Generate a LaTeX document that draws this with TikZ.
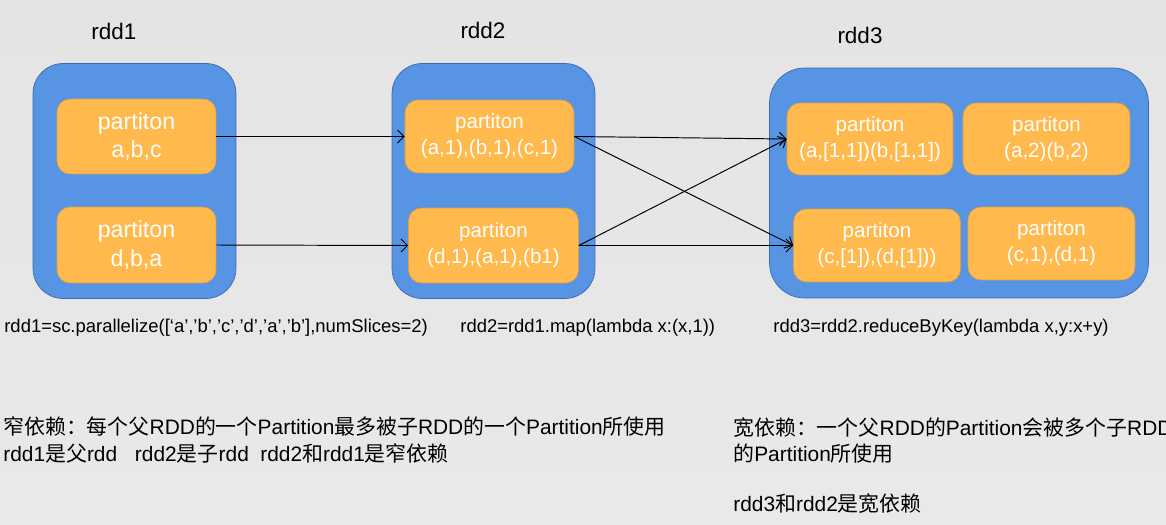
\documentclass[tikz,border=0pt]{standalone}
\usepackage{fontspec}
\setmainfont{Liberation Sans}
\newfontfamily\cjk{Noto Sans CJK SC}
\usetikzlibrary{arrows.meta}
\definecolor{rddblue}{RGB}{87,148,228}
\definecolor{rddedge}{RGB}{60,105,175}
\definecolor{partorange}{RGB}{255,185,77}
\definecolor{partedge}{RGB}{222,160,70}
\definecolor{bgtop}{RGB}{228,228,228}
\definecolor{bgmid}{RGB}{243,243,243}
\definecolor{bgbot}{RGB}{233,233,233}
\newcommand{\zh}[1]{{\cjk #1}}

\begin{document}
\begin{tikzpicture}[x=0.02cm,y=-0.02cm,
		rddbox/.style={draw=rddedge,fill=rddblue,rounded corners=0.6cm,inner sep=0pt},
		part/.style={draw=partedge,fill=partorange,rounded corners=0.26cm,inner sep=0pt,
			text=white,align=center,font=\fontsize{11.7}{14.7}\selectfont},
		rddname/.style={font=\fontsize{12.8}{15}\selectfont},
		codeline/.style={anchor=west,inner sep=0pt,font=\fontsize{10.5}{13}\selectfont},
		noteline/.style={anchor=west,inner sep=0pt,font=\fontsize{11.9}{14}\selectfont},
		dep/.style={line width=0.55pt,-{Straight Barb[length=1.3mm,width=2.6mm]}}]
			\fill[top color=bgtop,middle color=bgmid,bottom color=bgbot] (0,0) rectangle (1166,524);
			\useasboundingbox (0,0) rectangle (1166,524);
			% rdd1
			\node[rddname] (n1) at (114,31) {rdd1};
			\node[rddbox,minimum width=4.06cm,minimum height=4.7cm] (rddA) at (134.5,181) {};
			\node[part,minimum width=3.18cm,minimum height=1.5cm,font=\fontsize{13.2}{16.4}\selectfont] (a1) at (136.5,136.5) {partiton\\a,b,c};
			\node[part,minimum width=3.18cm,minimum height=1.52cm,font=\fontsize{13.2}{16.4}\selectfont] (a2) at (136.5,245) {partiton\\d,b,a};
			% rdd2
			\node[rddname] (n2) at (483,30) {rdd2};
			\node[rddbox,minimum width=4.06cm,minimum height=4.7cm] (rddB) at (493.5,181) {};
			\node[part,minimum width=3.38cm,minimum height=1.46cm] (b1) at (489.5,136.5) {partiton\\(a,1),(b,1),(c,1)};
			\node[part,minimum width=3.4cm,minimum height=1.5cm] (b2) at (493.5,245.5) {partiton\\(d,1),(a,1),(b1)};
			% rdd3
			\node[rddname] (n3) at (860,35) {rdd3};
			\node[rddbox,minimum width=7.58cm,minimum height=4.6cm,rounded corners=0.7cm] (rddC) at (959,183) {};
			\node[part,minimum width=3.32cm,minimum height=1.44cm] (c1) at (870,139) {partiton\\(a,[1,1])(b,[1,1])};
			\node[part,minimum width=3.34cm,minimum height=1.44cm] (c2) at (1046.5,139) {partiton\\(a,2)(b,2)};
			\node[part,minimum width=3.34cm,minimum height=1.46cm] (c3) at (877,245.5) {partiton\\(c,[1]),(d,[1]))};
			\node[part,minimum width=3.34cm,minimum height=1.46cm] (c4) at (1051.5,243.5) {partiton\\(c,1),(d,1)};
			% narrow, then wide
			\draw[dep] (a1.east) -- (b1.west);
			\draw[dep] (a2.east) -- (b2.west);
			\draw[dep] (b1.east) -- (c1.west);
			\draw[dep] (b1.east) -- (c3.west);
			\draw[dep] (b2.east) -- (c1.west);
			\draw[dep] (b2.east) -- (c3.west);
			\node[codeline] (code1) at (4,328) {rdd1=sc.parallelize([`a','b','c','d','a','b'],numSlices=2)};
			\node[codeline] (code2) at (460,328) {rdd2=rdd1.map(lambda x:(x,1))};
			\node[codeline] (code3) at (773,328) {rdd3=rdd2.reduceByKey(lambda x,y:x+y)};
			\node[noteline] (narrow1) at (3,426) {\zh{窄依赖：每个父}RDD\zh{的一个}Partition\zh{最多被子}RDD\zh{的一个}Partition\zh{所使用}};
			\node[noteline] (narrow2) at (3,453) {rdd1\zh{是父}rdd\hspace{0.85em}rdd2\zh{是子}rdd\hspace{0.55em}rdd2\zh{和}rdd1\zh{是窄依赖}};
			\node[noteline] (wide1) at (733,428) {\zh{宽依赖：一个父}RDD\zh{的}Partition\zh{会被多个子}RDD};
			\node[noteline] (wide2) at (733,454) {\zh{的}Partition\zh{所使用}};
			\node[noteline] (wide3) at (733,504) {rdd3\zh{和}rdd2\zh{是宽依赖}};
		\end{tikzpicture}
\end{document}
